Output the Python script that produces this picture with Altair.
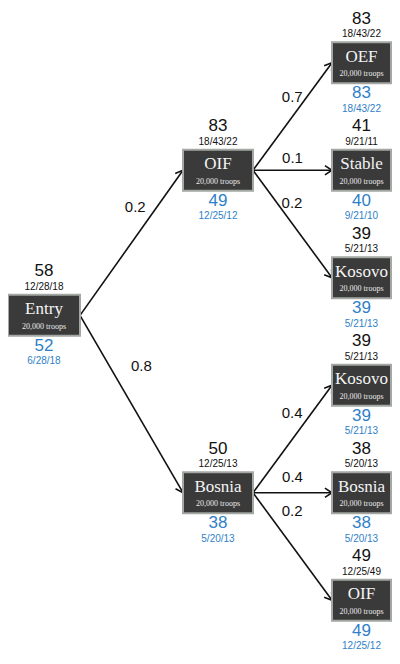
import math
import altair as alt
import pandas as pd

# ---------------- data ----------------
node_names = ["Entry", "OIF", "Bosnia", "OEF", "Stable", "Kosovo", "Kosovo", "Bosnia", "OIF"]
node_sub = ["20,000 troops"] * 9
top_values = [58, 83, 50, 83, 41, 39, 39, 38, 49]
top_codes = ["12/28/18", "18/43/22", "12/25/13", "18/43/22", "9/21/11", "5/21/13", "5/21/13", "5/20/13", "12/25/49"]
bottom_values = [52, 49, 38, 83, 40, 39, 39, 38, 49]
bottom_codes = ["6/28/18", "12/25/12", "5/20/13", "18/43/22", "9/21/10", "5/21/13", "5/21/13", "5/20/13", "12/25/12"]

edge_parent = [0, 0, 1, 1, 1, 2, 2, 2]
edge_child = [1, 2, 3, 4, 5, 6, 7, 8]
edge_prob = ["0.2", "0.8", "0.7", "0.1", "0.2", "0.4", "0.4", "0.2"]

# ---------------- layout (tree structure) ----------------
node_level = [0, 1, 1, 2, 2, 2, 2, 2, 2]
node_row = [2.35, 1, 4, 0, 1, 2, 3, 4, 5]
COL_X = [44, 218, 361.5]
COL_W = [72, 70, 59]
BOX_H = 42
ROW_Y0 = 60
ROW_STEP = 110
# label placement along each edge: fraction t and offset d (perpendicular, "above" side)
label_t = [0.68, 0.36, 0.62, 0.5, 0.37, 0.66, 0.5, 0.28]
label_d = [18, 28, 12, 13, 12, 16, 16, 21]

rows = []
for i, name in enumerate(node_names):
    lv = node_level[i]
    cx = COL_X[lv]
    cy = ROW_Y0 + ROW_STEP * node_row[i]
    w = COL_W[lv]
    rows.append(dict(
        name=name, sub=node_sub[i], cx=cx, cy=cy,
        bx1=cx - w / 2, bx2=cx + w / 2, by1=cy - BOX_H / 2, by2=cy + BOX_H / 2,
        tv=str(top_values[i]), tc=top_codes[i], bv=str(bottom_values[i]), bc=bottom_codes[i],
        name_y=cy - 6, sub_y=cy + 12,
        tv_y=cy - 45, tc_y=cy - 29, bv_y=cy + 31, bc_y=cy + 47,
    ))
nodes = pd.DataFrame(rows)

erows = []
for k in range(len(edge_parent)):
    p = rows[edge_parent[k]]
    c = rows[edge_child[k]]
    x0, y0 = p["bx2"], p["cy"]
    x1, y1 = c["bx1"], c["cy"]
    dx, dy = x1 - x0, y1 - y0
    L = math.hypot(dx, dy)
    ux, uy = dx / L, dy / L
    nx, ny = uy, -ux
    t, d = label_t[k], label_d[k]
    erows.append(dict(
        x0=x0, y0=y0, x1=x1, y1=y1,
        angle=math.degrees(math.atan2(dy, dx)) % 360,
        lx=x0 + t * dx + d * nx, ly=y0 + t * dy + d * ny,
        prob=edge_prob[k],
    ))
edges = pd.DataFrame(erows)

xs = alt.Scale(domain=[8, 392], nice=False, zero=False)
ys = alt.Scale(domain=[4, 663], nice=False, zero=False, reverse=True)

def X(f):
    return alt.X(f, type="quantitative", scale=xs, axis=None)

def Y(f):
    return alt.Y(f, type="quantitative", scale=ys, axis=None)

SANS = "Liberation Sans"
SERIF = "Liberation Serif"
BLUE = "#2f7fc8"

lines = alt.Chart(edges).mark_rule(color="#111111", strokeWidth=1.6).encode(
    x=X("x0"), y=Y("y0"), x2="x1", y2="y1")

heads = alt.Chart(edges).mark_point(
    shape="M -1 -0.65 L 0 0 L -1 0.65", filled=False, color="#111111",
    strokeWidth=1.6, size=200, opacity=1).encode(
    x=X("x1"), y=Y("y1"), angle=alt.Angle("angle:Q", scale=None))

boxes = alt.Chart(nodes).mark_rect(fill="#3a3a3a", stroke="#a3a8a3", strokeWidth=2).encode(
    x=X("bx1"), x2="bx2", y=Y("by1"), y2="by2")

names = alt.Chart(nodes).mark_text(font=SERIF, fontSize=17, color="#f4f4f4", baseline="middle").encode(
    x=X("cx"), y=Y("name_y"), text="name:N")
subs = alt.Chart(nodes).mark_text(font=SERIF, fontSize=8, color="#ececec", baseline="middle").encode(
    x=X("cx"), y=Y("sub_y"), text="sub:N")
tvals = alt.Chart(nodes).mark_text(font=SANS, fontSize=17, color="#111111", baseline="middle").encode(
    x=X("cx"), y=Y("tv_y"), text="tv:N")
tcodes = alt.Chart(nodes).mark_text(font=SANS, fontSize=10, color="#111111", baseline="middle").encode(
    x=X("cx"), y=Y("tc_y"), text="tc:N")
bvals = alt.Chart(nodes).mark_text(font=SANS, fontSize=17, color=BLUE, baseline="middle").encode(
    x=X("cx"), y=Y("bv_y"), text="bv:N")
bcodes = alt.Chart(nodes).mark_text(font=SANS, fontSize=10, color=BLUE, baseline="middle").encode(
    x=X("cx"), y=Y("bc_y"), text="bc:N")
probs = alt.Chart(edges).mark_text(font=SANS, fontSize=15, color="#111111", baseline="middle").encode(
    x=X("lx"), y=Y("ly"), text="prob:N")

chart = alt.layer(lines, heads, boxes, names, subs, tvals, tcodes, bvals, bcodes, probs).properties(
    width=384, height=644,
    autosize=alt.AutoSizeParams(type="none"),
    padding=0,
    background="white",
).configure_view(stroke=None)

chart.save("out.html", embed_options={"renderer": "svg", "actions": False})
